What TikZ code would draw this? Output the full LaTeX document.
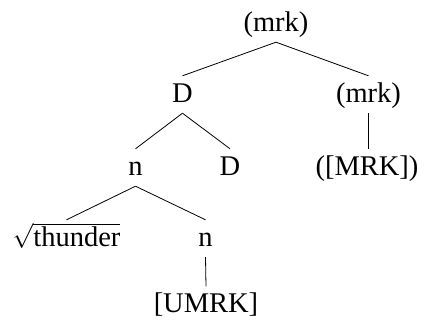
\documentclass[tikz,border=0pt]{standalone}
\usepackage{fontspec}
\setmainfont{Liberation Serif}
\begin{document}
\begin{tikzpicture}[x=1pt,y=-1pt,
  tn/.style={anchor=base,inner sep=0pt,text height=26.5pt,text depth=10.5pt,
    font=\fontsize{28.5}{34}\selectfont},
  edge/.style={draw=black,line width=0.8pt}]
\useasboundingbox (0,0) rectangle (424,326);
\node[tn] (root) at (276,31.5) {(mrk)};
\node[tn] (D) at (182.5,102.5) {D};
\node[tn] (mrkR) at (368.5,102.5) {(mrk)};
\node[tn] (n1) at (135.5,175.5) {n};
\node[tn] (D2) at (230,175.5) {D};
\node[tn] (MRK) at (367,175.5) {([MRK])};
\node[tn] (thunder) at (66.5,246.5) {$\sqrt{\mbox{thunder}}$};
\node[tn] (n2) at (205.5,246.5) {n};
\node[tn] (UMRK) at (206,313) {[UMRK]};
\draw[edge] (root.south) -- (D.north);
\draw[edge] (root.south) -- (mrkR.north);
\draw[edge] (D.south) -- (n1.north);
\draw[edge] (D.south) -- (D2.north);
\draw[edge] (mrkR.south) -- (mrkR.south |- MRK.north);
\draw[edge] (n1.south) -- (thunder.north);
\draw[edge] (n1.south) -- (n2.north);
\draw[edge] (n2.south) -- (UMRK.north);
\end{tikzpicture}
\end{document}
